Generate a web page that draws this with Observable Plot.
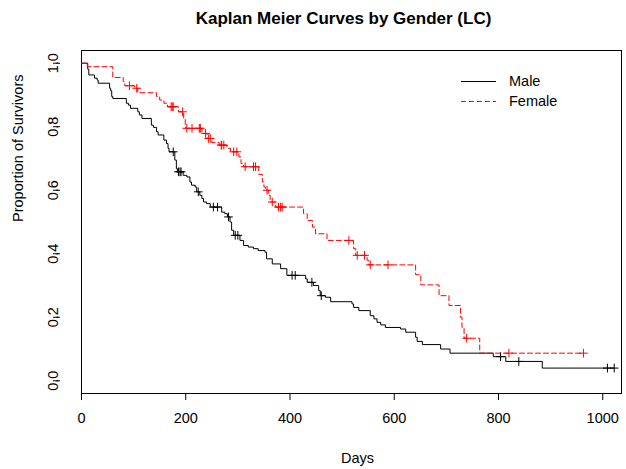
<!DOCTYPE html>
<html><head><meta charset="utf-8">
<script src="https://cdn.jsdelivr.net/npm/d3@7"></script>
<script src="https://cdn.jsdelivr.net/npm/@observablehq/plot@0.6"></script>
<style>
body{margin:0;background:#fff;}
#wrap{position:relative;width:626px;height:469px;font-family:"Liberation Sans",Arial,sans-serif;background:#fff;}
</style></head><body>
<div id="wrap"></div>
<script>
// ---- data ----
const title = "Kaplan Meier Curves by Gender (LC)";
const xLabel = "Days";
const yLabel = "Proportion of Survivors";
const seriesNames = ["Male", "Female"];
const seriesColors = ["#000000", "#ff0000"];
const xTicks = [0, 200, 400, 600, 800, 1000];
const yTicks = [0, 0.2, 0.4, 0.6, 0.8, 1.0];

const maleTime = [0, 12, 14, 25, 30, 32, 54, 56, 58, 60, 86, 90, 94, 108, 111, 116, 134, 138, 144, 147, 158, 163, 166, 168, 179, 182, 184, 195, 202, 208, 211, 218, 221, 227, 231, 234, 240, 247, 269, 275, 280, 285, 288, 292, 304, 311, 320, 330, 339, 352, 355, 366, 382, 394, 430, 433, 445, 455, 458, 468, 478, 519, 522, 532, 554, 561, 567, 574, 583, 612, 622, 641, 644, 654, 689, 707, 790, 814, 884, 1022];
const maleSurv = [1, 0.981, 0.963, 0.953, 0.947, 0.937, 0.921, 0.913, 0.895, 0.889, 0.874, 0.868, 0.858, 0.847, 0.837, 0.826, 0.805, 0.798, 0.784, 0.774, 0.758, 0.747, 0.732, 0.721, 0.695, 0.668, 0.658, 0.647, 0.642, 0.626, 0.616, 0.610, 0.595, 0.584, 0.574, 0.563, 0.558, 0.547, 0.531, 0.526, 0.516, 0.500, 0.474, 0.458, 0.442, 0.426, 0.421, 0.416, 0.410, 0.405, 0.384, 0.368, 0.353, 0.332, 0.321, 0.310, 0.300, 0.284, 0.268, 0.263, 0.249, 0.242, 0.231, 0.221, 0.205, 0.195, 0.184, 0.176, 0.168, 0.163, 0.153, 0.137, 0.124, 0.114, 0.100, 0.087, 0.076, 0.061, 0.040, 0.040];
const maleCensored = [176, 186, 189, 191, 224, 253, 261, 282, 295, 300, 404, 410, 442, 460, 804, 839, 1009, 1022];

const femaleTime = [0, 11, 60, 80, 83, 102, 108, 144, 150, 158, 165, 186, 196, 199, 200, 231, 241, 250, 264, 279, 286, 302, 306, 311, 340, 347, 350, 353, 359, 362, 372, 426, 433, 443, 449, 471, 522, 526, 548, 551, 641, 651, 686, 705, 727, 730, 734, 764, 963];
const femaleSurv = [1, 0.989, 0.955, 0.942, 0.929, 0.921, 0.907, 0.895, 0.884, 0.874, 0.863, 0.847, 0.826, 0.805, 0.795, 0.779, 0.763, 0.750, 0.742, 0.732, 0.721, 0.705, 0.684, 0.674, 0.650, 0.626, 0.610, 0.600, 0.584, 0.563, 0.547, 0.526, 0.505, 0.484, 0.463, 0.442, 0.416, 0.395, 0.379, 0.365, 0.334, 0.302, 0.268, 0.237, 0.200, 0.168, 0.134, 0.087, 0.087];
const femaleCensored = [92, 106, 172, 174, 176, 194, 202, 212, 226, 228, 238, 244, 247, 268, 269, 273, 292, 298, 314, 330, 334, 356, 366, 378, 382, 385, 513, 529, 543, 554, 588, 739, 820, 963];

// ---- build tables ----
function survAt(times, surv, t) {
  let s = surv[0];
  for (let i = 0; i < times.length; i++) if (times[i] <= t) s = surv[i];
  return s;
}
const male = maleTime.map((t, i) => ({time: t, surv: maleSurv[i]}));
const female = femaleTime.map((t, i) => ({time: t, surv: femaleSurv[i]}));
const maleCens = maleCensored.map(t => ({time: t, surv: survAt(maleTime, maleSurv, t)}));
const femaleCens = femaleCensored.map(t => ({time: t, surv: survAt(femaleTime, femaleSurv, t)}));

const FONT = "'Liberation Sans', Arial, sans-serif";
const plot = Plot.plot({
  width: 626, height: 469,
  marginLeft: 81, marginRight: 5, marginTop: 50, marginBottom: 76,
  style: {fontFamily: FONT, fontSize: "14.5px", background: "white", color: "black", overflow: "visible"},
  x: {domain: [0, 1036]},
  y: {domain: [-0.04, 1.04]},
  marks: [
    Plot.frame({stroke: "black", strokeWidth: 1}),
    Plot.axisX({ticks: xTicks, tickSize: 7, tickPadding: 12, tickFormat: d => String(d), label: null, fontSize: 14.5}),
    Plot.axisY({ticks: yTicks, tickSize: 7, tickPadding: 0, tickFormat: d3.format(".1f"), tickRotate: -90, textAnchor: "middle", lineAnchor: "middle", dx: -21, label: null, fontSize: 14.5}),
    Plot.line(male, {x: "time", y: "surv", curve: "step-after", stroke: seriesColors[0], strokeWidth: 1}),
    Plot.line(female, {x: "time", y: "surv", curve: "step-after", stroke: seriesColors[1], strokeWidth: 1, strokeDasharray: "5,3"}),
    Plot.dot(maleCens, {x: "time", y: "surv", symbol: "plus", r: 2.9, stroke: seriesColors[0], strokeWidth: 1}),
    Plot.dot(femaleCens, {x: "time", y: "surv", symbol: "plus", r: 2.9, stroke: seriesColors[1], strokeWidth: 1}),
    Plot.text([title], {frameAnchor: "top", lineAnchor: "middle", dy: -32, dx: -8, fontWeight: "bold", fontSize: 17}),
    Plot.text([xLabel], {frameAnchor: "bottom", lineAnchor: "middle", dy: 65, dx: 6, fontSize: 14.5}),
    Plot.text([yLabel], {frameAnchor: "left", lineAnchor: "middle", rotate: -90, dx: -63, fontSize: 14.5})
  ]
});
const wrap = document.getElementById("wrap");
wrap.appendChild(plot);

// legend, drawn inside the chart's own svg
const legItems = [
  {name: seriesNames[0], color: seriesColors[0], dash: null, y: 81},
  {name: seriesNames[1], color: seriesColors[1], dash: "5,3", y: 101}
];
const lg = d3.select(plot).append("g").attr("class", "km-legend");
legItems.forEach(it => {
  lg.append("path")
    .attr("d", `M461,${it.y + 0.5}H496`)
    .attr("fill", "none")
    .attr("stroke", it.color)
    .attr("stroke-width", 1)
    .attr("stroke-dasharray", it.dash || null);
  lg.append("text")
    .attr("x", 509).attr("y", it.y).attr("dy", "0.35em")
    .attr("text-anchor", "start")
    .attr("fill", "black")
    .attr("font-family", FONT).attr("font-size", 14.5)
    .text(it.name);
});
</script>
</body></html>
